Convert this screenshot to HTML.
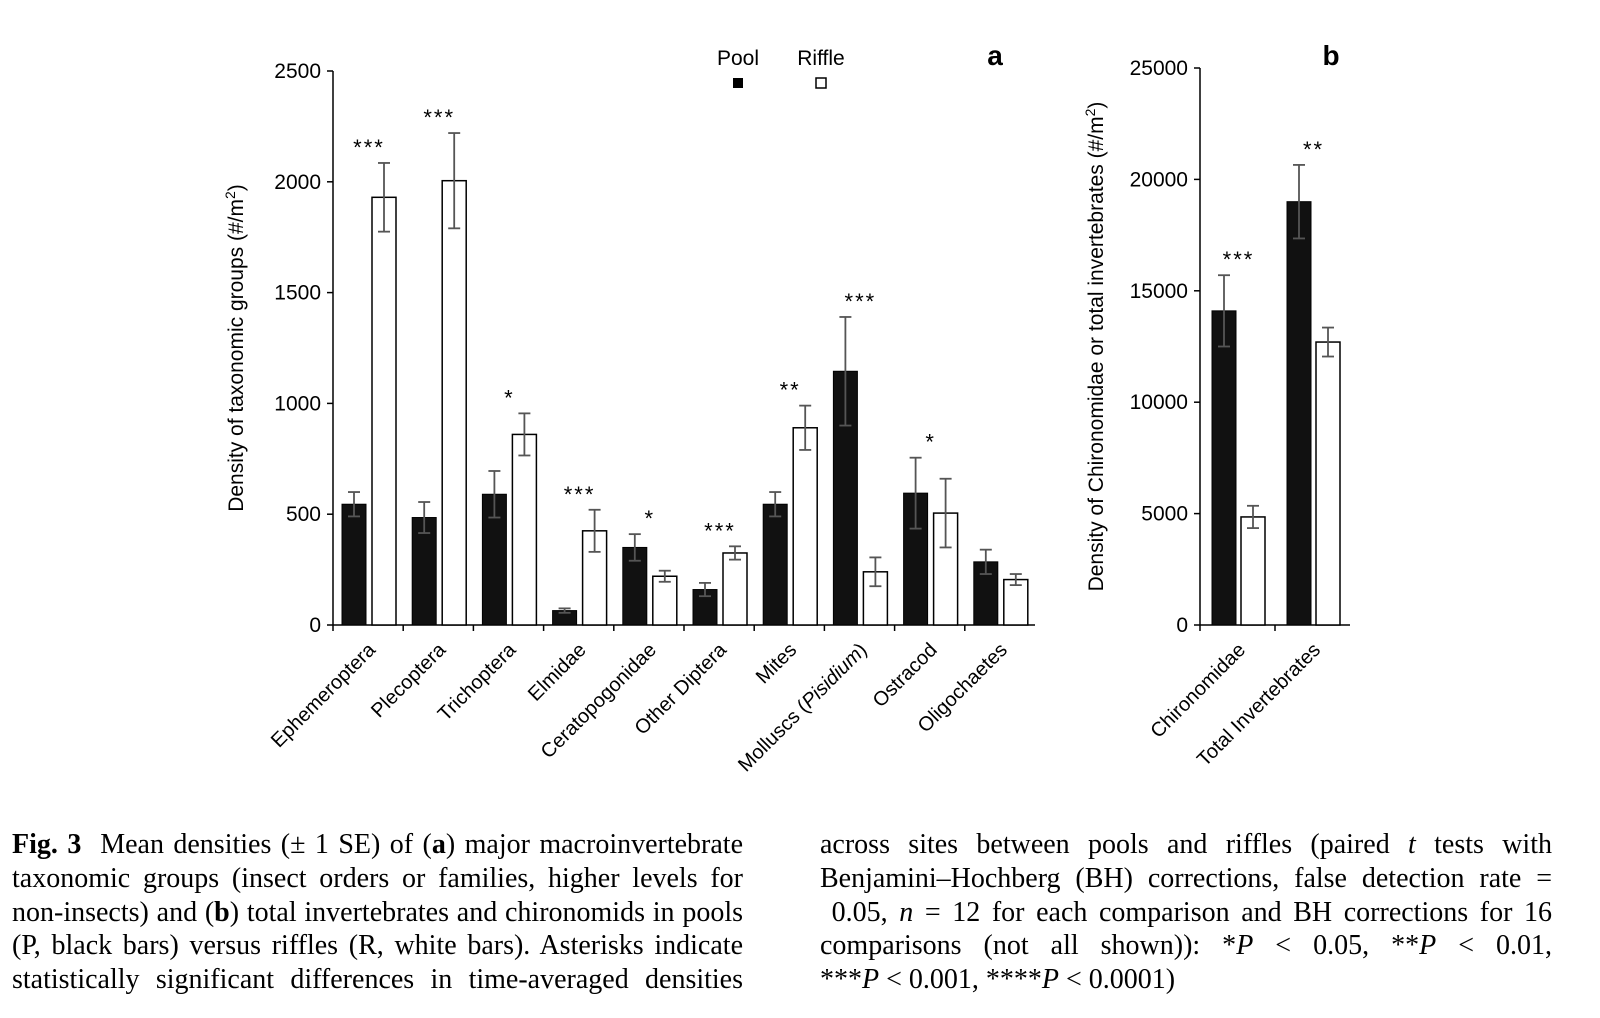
<!DOCTYPE html>
<html><head><meta charset="utf-8"><style>
body{margin:0;background:#fff;width:1600px;height:1018px;overflow:hidden;position:relative;font-family:"Liberation Sans",sans-serif}
.cap{position:absolute;font-family:"Liberation Serif",serif;font-size:28px;line-height:33.8px}
.cap div{white-space:nowrap;text-align:left;height:33.8px}
.cap div.j{text-align:justify;text-align-last:justify}
</style></head><body>
<svg id="chart" width="1600" height="820" style="position:absolute;left:0;top:0" font-family="Liberation Sans, sans-serif"></svg>
<div class="cap" style="left:12px;top:828px;width:731px">
<div><span><b>Fig. 3</b>&nbsp; Mean densities (± 1 SE) of (<b>a</b>) major macroinvertebrate</span></div>
<div><span>taxonomic groups (insect orders or families, higher levels for</span></div>
<div><span>non-insects) and (<b>b</b>) total invertebrates and chironomids in pools</span></div>
<div><span>(P, black bars) versus riffles (R, white bars). Asterisks indicate</span></div>
<div><span>statistically significant differences in time-averaged densities</span></div>
</div>
<div class="cap" style="left:820px;top:828px;width:732px">
<div><span>across sites between pools and riffles (paired <i>t</i> tests with</span></div>
<div><span>Benjamini–Hochberg (BH) corrections, false detection rate =</span></div>
<div><span>&nbsp;0.05, <i>n</i> = 12 for each comparison and BH corrections for 16</span></div>
<div><span>comparisons (not all shown)): *<i>P</i> &lt; 0.05, **<i>P</i> &lt; 0.01,</span></div>
<div class="last"><span>***<i>P</i> &lt; 0.001, ****<i>P</i> &lt; 0.0001)</span></div>
</div>
<script>
document.querySelectorAll('.cap').forEach(c=>{
  const W=c.getBoundingClientRect().width;
  c.querySelectorAll('div').forEach(d=>{
    const s=d.firstElementChild;
    const w=s.getBoundingClientRect().width;
    const n=s.textContent.length;
    if(w>W-2){d.style.letterSpacing=((W-2-w)/n)+'px';}
    if(!d.classList.contains('last'))d.classList.add('j');
  });
});
</script>
<script>
const catsA=["Ephemeroptera","Plecoptera","Trichoptera","Elmidae","Ceratopogonidae","Other Diptera","Mites","Molluscs (Pisidium)","Ostracod","Oligochaetes"];
const poolA=[545,485,590,65,350,160,545,1145,595,285];
const poolErrA=[55,70,105,10,60,30,55,245,160,55];
const riffA=[1930,2005,860,425,220,325,890,240,505,205];
const riffErrA=[155,215,95,95,25,30,100,65,155,25];
const sigA=["***","***","*","***","*","***","**","***","*",""];
const ticksA=[0,500,1000,1500,2000,2500];
const catsB=["Chironomidae","Total Invertebrates"];
const poolB=[14100,19000];
const poolErrB=[1600,1650];
const riffB=[4850,12700];
const riffErrB=[500,650];
const sigB=["***","**"];
const ticksB=[0,5000,10000,15000,20000,25000];

const svg=document.getElementById('chart');
const NS='http://www.w3.org/2000/svg';
function mk(t,a,p){const e=document.createElementNS(NS,t);for(const k in a)e.setAttribute(k,a[k]);(p||svg).appendChild(e);return e;}

function panel(o){
  const y=v=>o.y0-(v/o.max)*(o.y0-o.yTop);
  const g=mk('g',{});
  
  
  mk('line',{x1:o.x0,y1:o.yTop,x2:o.x0,y2:o.y0,stroke:'#000','stroke-width':1.5},g);
  mk('line',{x1:o.x0,y1:o.y0,x2:o.x1,y2:o.y0,stroke:'#000','stroke-width':1.5},g);
  o.ticks.forEach(t=>{
    mk('line',{x1:o.x0-6,y1:y(t),x2:o.x0,y2:y(t),stroke:'#000','stroke-width':1.5},g);
    const tx=mk('text',{x:o.x0-12,y:y(t)+7,'text-anchor':'end','font-size':21},g);tx.textContent=t;
    
    
  });
  const n=o.cats.length,gw=(o.x1-o.x0)/n;
  o.cats.forEach((c,i)=>{
    const gx=o.x0+i*gw;
    mk('line',{x1:gx,y1:o.y0,x2:gx,y2:o.y0+6,stroke:'#000','stroke-width':1.5},g);
    const px=gx+o.off, rx=px+o.bw+o.gap;
    const b1=mk('rect',{x:px,y:y(o.pool[i]),width:o.bw,height:o.y0-y(o.pool[i]),fill:'#111',stroke:'#000'},g);
    
    
    const b2=mk('rect',{x:rx,y:y(o.riff[i]),width:o.bw,height:o.y0-y(o.riff[i]),fill:'#fff',stroke:'#000','stroke-width':1.5},g);
    
    
    [[px,o.pool[i],o.pe[i]],[rx,o.riff[i],o.re[i]]].forEach(([bx,v,e])=>{
      const cx=bx+o.bw/2;
      mk('line',{x1:cx,y1:y(v+e),x2:cx,y2:y(v-e),stroke:'#555','stroke-width':1.8},g);
      mk('line',{x1:cx-6,y1:y(v+e),x2:cx+6,y2:y(v+e),stroke:'#555','stroke-width':1.8},g);
      mk('line',{x1:cx-6,y1:y(v-e),x2:cx+6,y2:y(v-e),stroke:'#555','stroke-width':1.8},g);
    });
    if(o.sig[i]){
      const top=Math.max(o.pool[i]+o.pe[i],o.riff[i]+o.re[i]);
      const s=mk('text',{x:(px+rx+o.bw)/2,y:y(top)-8,'text-anchor':'middle','font-size':22,'letter-spacing':2},g);s.textContent=o.sig[i];
      
      
    }
    const lx=gx+gw*0.62, ly=o.y0+26;
    const l=mk('text',{x:lx,y:ly,'text-anchor':'end','font-size':20,transform:`rotate(-45 ${lx} ${ly})`},g);
    if(c.indexOf('(Pisidium)')>=0){l.innerHTML='Molluscs (<tspan font-style="italic">Pisidium</tspan>)';}else l.textContent=c;
    
    
  });
  const yl=mk('text',{x:0,y:0,'text-anchor':'middle','font-size':21,transform:`translate(${o.ytX},${(o.y0+o.yTop)/2}) rotate(-90)`},g);
  yl.innerHTML=o.ytitle;
  
  
}
panel({name:'panel-a',x0:333,x1:1035,y0:625,yTop:71,max:2500,ticks:ticksA,cats:catsA,pool:poolA,pe:poolErrA,riff:riffA,re:riffErrA,sig:sigA,bw:24,gap:6,off:9,ytX:243,ytitle:'Density of taxonomic groups (#/m<tspan baseline-shift="super" font-size="14">2</tspan>)'});
panel({name:'panel-b',x0:1200,x1:1350,y0:625,yTop:68,max:25000,ticks:ticksB,cats:catsB,pool:poolB,pe:poolErrB,riff:riffB,re:riffErrB,sig:sigB,bw:24,gap:5,off:12,ytX:1103,ytitle:'Density of Chironomidae or total invertebrates (#/m<tspan baseline-shift="super" font-size="14">2</tspan>)'});
function txt(x,yy,s,a,name){const t=mk('text',Object.assign({x:x,y:yy},a));t.textContent=s;}
txt(995,65,'a',{'font-size':28,'font-weight':'bold','text-anchor':'middle'},'panel-a-label');
txt(1331,65,'b',{'font-size':28,'font-weight':'bold','text-anchor':'middle'},'panel-b-label');
txt(738,65,'Pool',{'font-size':21,'text-anchor':'middle'},'legend-pool-text');
txt(821,65,'Riffle',{'font-size':21,'text-anchor':'middle'},'legend-riffle-text');
const lp=mk('rect',{x:733,y:78,width:10,height:10,fill:'#000'});
const lr=mk('rect',{x:816,y:78,width:10,height:10,fill:'#fff',stroke:'#000','stroke-width':1.5});
</script>
</body></html>
